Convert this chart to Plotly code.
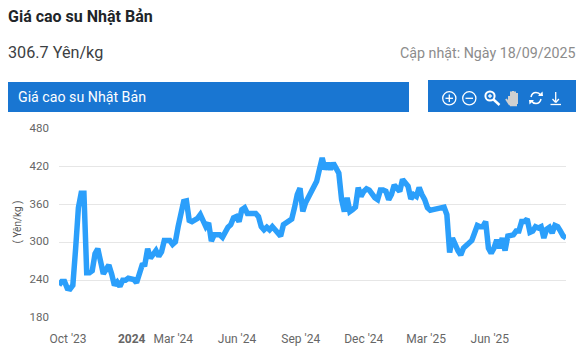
import pandas as pd
import plotly.graph_objects as go

W, H = 588, 362
TITLE = "Giá cao su Nhật Bản"
PRICE_TEXT = "306.7 Yên/kg"
UPDATED = "Cập nhật: Ngày 18/09/2025"
Y_TITLE = "( Yên/kg )"
Y_TICKS = [180, 240, 300, 360, 420, 480]
X_TICK_DATES = ["2023-10-01", "2024-01-01", "2024-03-01", "2024-06-01",
                "2024-09-01", "2024-12-01", "2025-03-01", "2025-06-01"]
X_TICK_TEXT = ["Oct '23", "<b>2024</b>", "Mar '24", "Jun '24",
               "Sep '24", "Dec '24", "Mar '25", "Jun '25"]
VALUES = [
    232, 238, 238, 227, 226, 232, 290, 355, 378, 378,
    252, 252, 255, 282, 290, 268, 250, 257, 264, 250,
    232, 237, 230, 240, 240, 243, 243, 241, 236, 248,
    264, 265, 290, 275, 283, 287, 278, 285, 303, 302,
    303, 297, 301, 325, 350, 365, 366, 335, 333, 336,
    338, 344, 336, 325, 331, 302, 312, 312, 312, 308,
    318, 324, 328, 339, 341, 333, 352, 355, 346, 346,
    348, 346, 341, 325, 320, 324, 320, 325, 320, 315,
    310, 328, 331, 334, 337, 355, 376, 386, 349, 363,
    371, 377, 386, 397, 416, 434, 416, 426, 416, 426,
    418, 410, 368, 349, 371, 349, 352, 356, 387, 373,
    381, 385, 383, 376, 371, 368, 383, 383, 381, 368,
    376, 391, 384, 381, 400, 394, 389, 369, 376, 373,
    387, 376, 368, 355, 351, 352, 353, 354, 355, 356,
    344, 284, 307, 296, 287, 280, 291, 295, 298, 303,
    315, 327, 325, 325, 333, 291, 283, 291, 304, 291,
    307, 287, 310, 312, 312, 318, 318, 333, 333, 337,
    316, 318, 325, 323, 325, 307, 321, 324, 315, 327,
    325, 318, 310, 307,
]
DATES = pd.date_range("2023-09-18", periods=len(VALUES), freq="4D")

BLUE = "#1976d2"
LINE = "#2b9ffb"
M_L, M_R, M_T, M_B = 59, 22, 129, 44
PLOT_W = W - M_L - M_R
PLOT_H = H - M_T - M_B


def px(x):
    return (x - M_L) / PLOT_W


def py(y):
    return (H - M_B - y) / PLOT_H


def rect(x0, y0, x1, y1, color):
    return dict(type="rect", xref="paper", yref="paper", x0=px(x0), x1=px(x1),
                y0=py(y1), y1=py(y0), fillcolor=color, line_width=0, layer="below")


def circle(cx, cy, r, color="white", width=1.3):
    return dict(type="circle", xref="paper", yref="paper", x0=px(cx - r), x1=px(cx + r),
                y0=py(cy + r), y1=py(cy - r), line=dict(color=color, width=width))


def seg(x0, y0, x1, y1, color="white", width=1.3):
    return dict(type="line", xref="paper", yref="paper", x0=px(x0), x1=px(x1),
                y0=py(y0), y1=py(y1), line=dict(color=color, width=width))


def label(x, y, text, size, color, anchor="left", bold=False):
    return dict(xref="paper", yref="paper", x=px(x), y=py(y), text=f"<b>{text}</b>" if bold else text,
                showarrow=False, xanchor=anchor, yanchor="middle",
                font=dict(family="Roboto", size=size, color=color),
                borderpad=0, borderwidth=0)


HAND = "#d0d0d0"
shapes = [
    rect(8, 82, 409, 112, BLUE),
    rect(428, 80, 576, 112, BLUE),
    # plus-circle
    circle(449.3, 98.3, 6.6), seg(445.5, 98.3, 453, 98.3), seg(449.3, 94.5, 449.3, 102),
    # minus-circle
    circle(469.3, 98.3, 6.6), seg(465.5, 98.3, 473, 98.3),
    # magnifier
    circle(490, 96, 4.6, width=2), seg(493.5, 99.5, 499.5, 105, width=2.4),
    seg(488, 96, 492, 96), seg(490, 94, 490, 98),
    # hand
    seg(509, 96, 509, 104, HAND, 2), seg(511, 91.5, 511, 104, HAND, 2),
    seg(513, 91, 513, 104, HAND, 2), seg(515, 91.5, 515, 104, HAND, 2),
    seg(517, 93, 517, 104, HAND, 2), seg(506, 99, 510, 105, HAND, 2),
    seg(510, 105, 517, 105, HAND, 2.5),
    # refresh
    dict(type="path", xref="paper", yref="paper", line=dict(color="white", width=1.5),
         path=f"M {px(531)} {py(97)} Q {px(532)} {py(92.5)} {px(536)} {py(92.5)} Q {px(539)} {py(92.5)} {px(540.5)} {py(95)}"),
    dict(type="path", xref="paper", yref="paper", line=dict(color="white", width=1.5),
         path=f"M {px(541)} {py(99)} Q {px(540)} {py(103.5)} {px(536)} {py(103.5)} Q {px(533)} {py(103.5)} {px(531.5)} {py(101)}"),
    dict(type="path", xref="paper", yref="paper", fillcolor="white", line_width=0,
         path=f"M {px(538)} {py(96)} L {px(543)} {py(96)} L {px(542.5)} {py(91.5)} Z"),
    dict(type="path", xref="paper", yref="paper", fillcolor="white", line_width=0,
         path=f"M {px(534)} {py(100)} L {px(529)} {py(100)} L {px(529.5)} {py(104.5)} Z"),
    # download
    seg(555.7, 92, 555.7, 102), seg(552.5, 99, 555.7, 102.5), seg(558.9, 99, 555.7, 102.5),
    seg(550.5, 104.5, 561, 104.5),
]

annotations = [
    label(8, 16, TITLE, 16, "#212529", bold=True),
    label(8, 52, PRICE_TEXT, 16.2, "#3c4043"),
    label(576, 53.5, UPDATED, 14.25, "#8c8c8c", anchor="right"),
    label(18, 96.5, TITLE, 14.2, "#ffffff"),
    dict(xref="paper", yref="paper", x=px(17.5), y=py(222), text=Y_TITLE, textangle=-90,
         showarrow=False, xanchor="center", yanchor="middle",
         font=dict(family="Roboto", size=10, color="#555555")),
]

fig = go.Figure(go.Scatter(
    x=DATES, y=VALUES, mode="lines", cliponaxis=False,
    line=dict(color=LINE, width=5.5, shape="linear"), hoverinfo="skip",
))

fig.update_layout(
    width=W, height=H, autosize=False,
    margin=dict(l=M_L, r=M_R, t=M_T, b=M_B, pad=0),
    paper_bgcolor="white", plot_bgcolor="white",
    showlegend=False, shapes=shapes, annotations=annotations,
    font=dict(family="Roboto", color="#666666", size=12),
    xaxis=dict(
        type="date", range=["2023-09-18", DATES[-1]],
        tickmode="array", tickvals=X_TICK_DATES, ticktext=X_TICK_TEXT,
        showgrid=False, zeroline=False, showline=False, ticks="",
        ticklabelstandoff=12,
        tickfont=dict(family="Roboto", size=12, color="#666666"), tickangle=0,
    ),
    yaxis=dict(
        range=[180, 480], tickmode="array", tickvals=Y_TICKS,
        gridcolor="#e6e6e6", gridwidth=1, zeroline=False, showline=False, ticks="",
        ticklabelstandoff=9, ticklabelshift=-1,
        tickfont=dict(family="Roboto", size=11.5, color="#666666"),
    ),
)

fig.write_html("out.html", config={"displayModeBar": False},
               post_script="document.body.style.margin='0';")
